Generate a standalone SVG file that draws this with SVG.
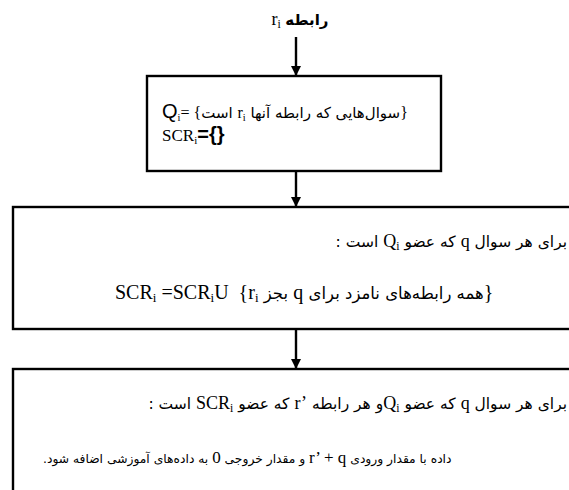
<svg xmlns="http://www.w3.org/2000/svg" width="569" height="490" viewBox="0 0 569 490">
  <defs>
    <marker id="head" viewBox="0 0 10 10" refX="10" refY="5" markerWidth="4.2" markerHeight="4.2" orient="auto" markerUnits="strokeWidth">
      <path d="M0,0 L10,5 L0,10 Z" fill="#000"/>
    </marker>
  </defs>
  <style>
    .box{fill:#fff;stroke:#000;stroke-width:2.4}
    .wire{stroke:#000;stroke-width:2.4;fill:none;marker-end:url(#head)}
    text{font-family:"Liberation Serif","DejaVu Sans",serif;fill:#000}
    .fa{font-family:"DejaVu Sans",sans-serif}
    .sans{font-family:"Liberation Sans",sans-serif}
    .sub{font-size:65%;baseline-shift:-3px}
  </style>

  <!-- flow connectors -->
  <g id="connectors">
    <line class="wire" x1="296" y1="37" x2="296" y2="76"/>
    <line class="wire" x1="296" y1="171" x2="296" y2="207"/>
    <line class="wire" x1="296" y1="329" x2="296" y2="369"/>
  </g>

  <!-- input label -->
  <g id="input">
    <text x="300" y="25" text-anchor="middle" font-size="18" xml:space="preserve">&#x2067;<tspan class="fa" font-weight="bold" font-size="15">رابطه</tspan> r<tspan class="sub">i</tspan>&#x2069;</text>
  </g>

  <!-- step 1: initialise Qi and SCRi -->
  <g id="init">
    <rect class="box" x="147" y="76" width="294" height="95"/>
    <text x="162" y="118" font-size="16" xml:space="preserve"><tspan class="sans" font-size="20">Q</tspan><tspan class="sub">i</tspan>= {&#x2067;<tspan class="fa" font-size="15">سوال‌هایی که رابطه آنها </tspan>r<tspan class="sub">i</tspan><tspan class="fa" font-size="15"> است</tspan>&#x2069;}</text>
    <text x="162" y="141" font-size="17" xml:space="preserve">SCR<tspan class="sub">i</tspan><tspan class="sans" font-weight="bold" font-size="20">={}</tspan></text>
  </g>

  <!-- step 2: collect candidate relations -->
  <g id="collect">
    <rect class="box" x="13" y="207" width="600" height="122"/>
    <text x="567" y="247" text-anchor="end" font-size="18" xml:space="preserve">&#x2067;<tspan class="fa" font-size="15.5">برای هر سوال </tspan>q<tspan class="fa" font-size="15.5"> که عضو </tspan>Q<tspan class="sub">i</tspan><tspan class="fa" font-size="15.5"> است :</tspan>&#x2069;</text>
    <text x="115" y="299" font-size="20" xml:space="preserve">SCR<tspan class="sub">i</tspan> =SCR<tspan class="sub">i</tspan>U  {&#x2067;<tspan class="fa" font-size="16.5">همه رابطه‌های نامزد برای </tspan>q<tspan class="fa" font-size="16.5"> بجز </tspan>r<tspan class="sub">i</tspan>&#x2069;}</text>
  </g>

  <!-- step 3: build negative training samples -->
  <g id="samples">
    <rect class="box" x="13" y="369" width="600" height="140"/>
    <text x="567" y="409" text-anchor="end" font-size="18" xml:space="preserve">&#x2067;<tspan class="fa" font-size="15.5">برای هر سوال </tspan>q<tspan class="fa" font-size="15.5"> که عضو </tspan>Q<tspan class="sub">i</tspan><tspan class="fa" font-size="15.5">و هر رابطه </tspan>r’&#x200E;<tspan class="fa" font-size="15.5"> که عضو </tspan>SCR<tspan class="sub">i</tspan><tspan class="fa" font-size="15.5"> است :</tspan>&#x2069;</text>
    <text x="43" y="463" font-size="17" xml:space="preserve">&#x2067;<tspan class="fa" font-size="12.3">داده با مقدار ورودی </tspan>r’ + q<tspan class="fa" font-size="12.3"> و مقدار خروجی </tspan>0<tspan class="fa" font-size="12.3"> به داده‌های آموزشی اضافه شود.</tspan>&#x2069;</text>
  </g>
</svg>
